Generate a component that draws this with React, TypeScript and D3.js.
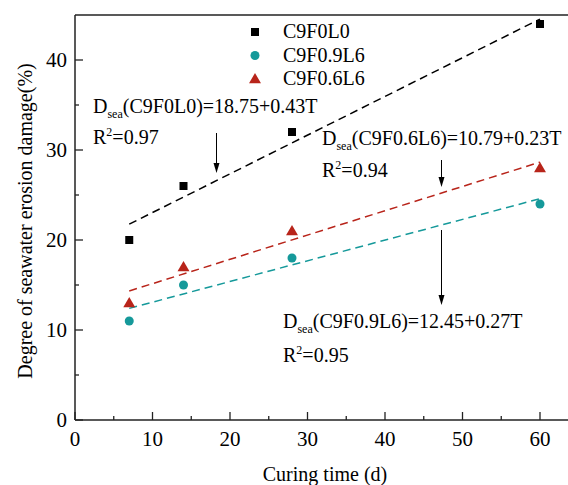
import React from "react";
import * as d3 from "d3";

// Curing ages (days)
const curingDays = [7, 14, 28, 60];

// Measured seawater erosion damage (%) for each mix
const damageC9F0L0 = [20, 26, 32, 44];
const damageC9F09L6 = [11, 15, 18, 24];
const damageC9F06L6 = [13, 17, 21, 28];

// Linear fits: [intercept, slope]
const fitC9F0L0 = [18.75, 0.43];
const fitC9F09L6 = [10.79, 0.23];
const fitC9F06L6 = [12.45, 0.27];

const seriesNames = ["C9F0L0", "C9F0.9L6", "C9F0.6L6"];

const xTicks = [0, 10, 20, 30, 40, 50, 60];
const yTicks = [0, 10, 20, 30, 40];

const W = 568;
const H = 485;
const SERIF = { fontFamily: '"Liberation Serif"' };

export default function App() {
  const x = d3.scaleLinear().domain([0, 64]).range([75, 571]);
  const y = d3.scaleLinear().domain([0, 45]).range([420, 15]);

  const series = [
    { name: seriesNames[0], values: damageC9F0L0, fit: fitC9F0L0, color: "#000000", shape: "square" },
    { name: seriesNames[1], values: damageC9F09L6, fit: fitC9F09L6, color: "#15999a", shape: "circle" },
    { name: seriesNames[2], values: damageC9F06L6, fit: fitC9F06L6, color: "#b8241a", shape: "triangle" },
  ];

  const marker = (shape: string, cx: number, cy: number, color: string, key: string) => {
    if (shape === "square")
      return <rect key={key} x={cx - 4} y={cy - 4} width={8} height={8} fill={color} />;
    if (shape === "circle") return <circle key={key} cx={cx} cy={cy} r={4.5} fill={color} />;
    const sym = d3.symbol(d3.symbolTriangle, 62)();
    return <path key={key} d={sym || ""} transform={`translate(${cx},${cy + 0.8})`} fill={color} />;
  };

  const tStart = curingDays[0];
  const tEnd = curingDays[curingDays.length - 1];

  const arrow = (xPos: number, y1: number, y2: number, key: string) => (
    <g key={key}>
      <line x1={xPos} y1={y1} x2={xPos} y2={y2 - 8} stroke="#000" strokeWidth={1} />
      <path d={`M${xPos - 3},${y2 - 10} L${xPos + 3},${y2 - 10} L${xPos},${y2} Z`} fill="#000" />
    </g>
  );

  const eq = (xPos: number, yPos: number, mix: string, rhs: string, r2: string, gap: number) => (
    <g fill="#000">
      <text x={xPos} y={yPos} fontSize={20} style={SERIF}>
        D<tspan fontSize={12} dy={5}>sea</tspan>
        <tspan dy={-5}>({mix})={rhs}</tspan>
      </text>
      <text x={xPos} y={yPos + gap} fontSize={20} style={SERIF}>
        R<tspan fontSize={12} dy={-8}>2</tspan>
        <tspan dy={8}>={r2}</tspan>
      </text>
    </g>
  );

  return (
    <svg width={W} height={H} style={{ position: "absolute", left: 0, top: 0, background: "#fff" }}>
      <rect x={0} y={0} width={W} height={H} fill="#fff" />

      {/* frame */}
      <line x1={x(0)} x2={W} y1={y(45)} y2={y(45)} stroke="#222" strokeWidth={1.5} />
      <line x1={x(0)} x2={x(0)} y1={y(0)} y2={y(45)} stroke="#222" strokeWidth={1.5} />
      <line x1={x(0)} x2={W} y1={y(0)} y2={y(0)} stroke="#222" strokeWidth={1.5} />

      {/* x ticks */}
      {d3.range(0, 65, 5).map((v) => (
        <line
          key={"xt" + v}
          x1={x(v)}
          x2={x(v)}
          y1={y(0)}
          y2={y(0) - (v % 10 === 0 ? 8 : 4)}
          stroke="#222"
          strokeWidth={1.3}
        />
      ))}
      {xTicks.map((v) => (
        <text key={"xl" + v} x={x(v)} y={446} textAnchor="middle" fontSize={21} style={SERIF}>
          {v}
        </text>
      ))}

      {/* y ticks */}
      {d3.range(0, 45, 5).map((v) => (
        <line
          key={"yt" + v}
          x1={x(0)}
          x2={x(0) + (v % 10 === 0 ? 8 : 4)}
          y1={y(v)}
          y2={y(v)}
          stroke="#222"
          strokeWidth={1.3}
        />
      ))}
      {yTicks.map((v) => (
        <text key={"yl" + v} x={67} y={y(v) + 7} textAnchor="end" fontSize={21} style={SERIF}>
          {v}
        </text>
      ))}

      {/* axis titles */}
      <text x={325} y={481} textAnchor="middle" fontSize={20} style={SERIF}>
        Curing time (d)
      </text>
      <text
        transform={`translate(32,${221}) rotate(-90)`}
        textAnchor="middle"
        fontSize={20}
        style={SERIF}
      >
        Degree of seawater erosion damage(%)
      </text>

      {/* fitted lines */}
      {series.map((s) => {
        const gen = d3
          .line<number>()
          .x((t) => x(t))
          .y((t) => y(s.fit[0] + s.fit[1] * t));
        return (
          <path
            key={"fit" + s.name}
            d={gen([tStart, tEnd]) || ""}
            fill="none"
            stroke={s.color}
            strokeWidth={1.5}
            strokeDasharray="8,5"
          />
        );
      })}

      {/* data points */}
      {series.map((s) =>
        s.values.map((v, i) => marker(s.shape, x(curingDays[i]), y(v), s.color, s.name + i))
      )}

      {/* legend */}
      {series.map((s, i) => (
        <g key={"lg" + s.name}>
          {marker(s.shape, 255, 32 + i * 23.5, s.color, "lm" + i)}
          <text x={283} y={38 + i * 23.5} fontSize={20} style={SERIF}>
            {s.name}
          </text>
        </g>
      ))}

      {/* equations */}
      {eq(93, 113, "C9F0L0", "18.75+0.43T", "0.97", 31)}
      {eq(322, 145, "C9F0.6L6", "10.79+0.23T", "0.94", 32)}
      {eq(283, 328, "C9F0.9L6", "12.45+0.27T", "0.95", 34)}

      {arrow(216.5, 133, 173, "a1")}
      {arrow(441.5, 160, 187, "a2")}
      {arrow(441.5, 230, 305, "a3")}
    </svg>
  );
}
